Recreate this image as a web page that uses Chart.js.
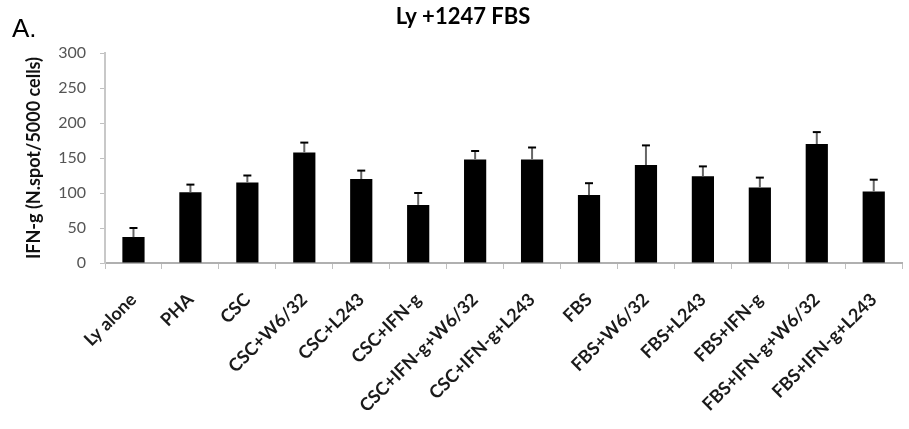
<!DOCTYPE html>
<html>
<head>
<meta charset="utf-8">
<script src="https://cdn.jsdelivr.net/npm/chart.js@4"></script>
<style>
  html, body { margin: 0; padding: 0; background: #fff; }
  #wrap { width: 909px; height: 429px; }
</style>
</head>
<body>
<div id="wrap"><canvas id="myChart"></canvas></div>
<script>
var categories = ['Ly alone', 'PHA', 'CSC', 'CSC+W6/32', 'CSC+L243', 'CSC+IFN-g',
  'CSC+IFN-g+W6/32', 'CSC+IFN-g+L243', 'FBS', 'FBS+W6/32', 'FBS+L243',
  'FBS+IFN-g', 'FBS+IFN-g+W6/32', 'FBS+IFN-g+L243'];
var spots = [37, 101, 115, 158, 120, 83, 148, 148, 97, 140, 124, 108, 170, 102];
var spotsErr = [13, 11, 10, 14, 12, 17, 12, 17, 17, 28, 14, 14, 17, 17];
var yTicks = [0, 50, 100, 150, 200, 250, 300];

// error bars (upper only) drawn through the y scale
var errorBars = {
  id: 'errorBars',
  afterDatasetsDraw: function (chart) {
    var ctx = chart.ctx;
    var y = chart.scales.y;
    var meta = chart.getDatasetMeta(0);
    ctx.save();
    meta.data.forEach(function (bar, i) {
      var top = y.getPixelForValue(spots[i]);
      var hi = y.getPixelForValue(spots[i] + spotsErr[i]);
      ctx.strokeStyle = '#666';
      ctx.lineWidth = 2;
      ctx.beginPath();
      ctx.moveTo(bar.x, top);
      ctx.lineTo(bar.x, hi);
      ctx.stroke();
      ctx.strokeStyle = '#000';
      ctx.beginPath();
      ctx.moveTo(bar.x - 4, hi);
      ctx.lineTo(bar.x + 4, hi);
      ctx.stroke();
    });
    ctx.restore();
  }
};

// panel letter and title
var headings = {
  id: 'headings',
  afterDraw: function (chart) {
    var ctx = chart.ctx;
    ctx.save();
    ctx.fillStyle = '#000';
    ctx.textBaseline = 'middle';
    ctx.font = '26px "Liberation Sans", Arial, sans-serif';
    ctx.textAlign = 'left';
    ctx.fillText('A.', 12, 30);
    ctx.font = 'bold 22px Lato, "Open Sans", sans-serif';
    ctx.textAlign = 'center';
    ctx.fillText('Ly +1247 FBS', 463, 17);
    ctx.restore();
  }
};

var ctx = document.getElementById('myChart').getContext('2d');
var chart = new Chart(ctx, {
  type: 'bar',
  data: {
    labels: categories,
    datasets: [{
      label: 'IFN-g',
      data: spots,
      backgroundColor: '#000',
      borderWidth: 0,
      categoryPercentage: 1,
      barPercentage: 0.39
    }]
  },
  options: {
    responsive: true,
    maintainAspectRatio: false,
    animation: false,
    layout: { padding: { top: 53, right: 0, left: 0, bottom: 0 } },
    plugins: {
      legend: { display: false },
      tooltip: { enabled: false }
    },
    scales: {
      x: {
        grid: {
          offset: true,
          drawOnChartArea: false,
          drawTicks: true,
          tickLength: 6,
          color: '#c0c0c0'
        },
        border: { color: '#b0b0b0', width: 2 },
        ticks: {
          minRotation: 45,
          maxRotation: 45,
          padding: 20,
          color: '#1a1a1a',
          font: { family: 'Lato, "Open Sans", sans-serif', size: 18, weight: 'bold' }
        },
        afterFit: function (s) { s.height = 166; }
      },
      y: {
        min: 0,
        max: 300,
        afterBuildTicks: function (s) {
          s.ticks = yTicks.map(function (v) { return { value: v }; });
        },
        grid: {
          drawOnChartArea: false,
          drawTicks: true,
          tickLength: 5,
          color: '#c0c0c0'
        },
        border: { color: '#c8c8c8', width: 2 },
        ticks: {
          padding: 14,
          color: '#555',
          font: { family: 'Lato, "Open Sans", sans-serif', size: 16 }
        },
        title: {
          display: true,
          text: 'IFN-g (N.spot/5000 cells)',
          color: '#111',
          padding: { top: 23, bottom: 0 },
          font: { family: 'Lato, "Open Sans", sans-serif', size: 18, weight: 'bold' }
        },
        afterFit: function (s) { s.width = 105; }
      }
    }
  },
  plugins: [errorBars, headings]
});
</script>
</body>
</html>
